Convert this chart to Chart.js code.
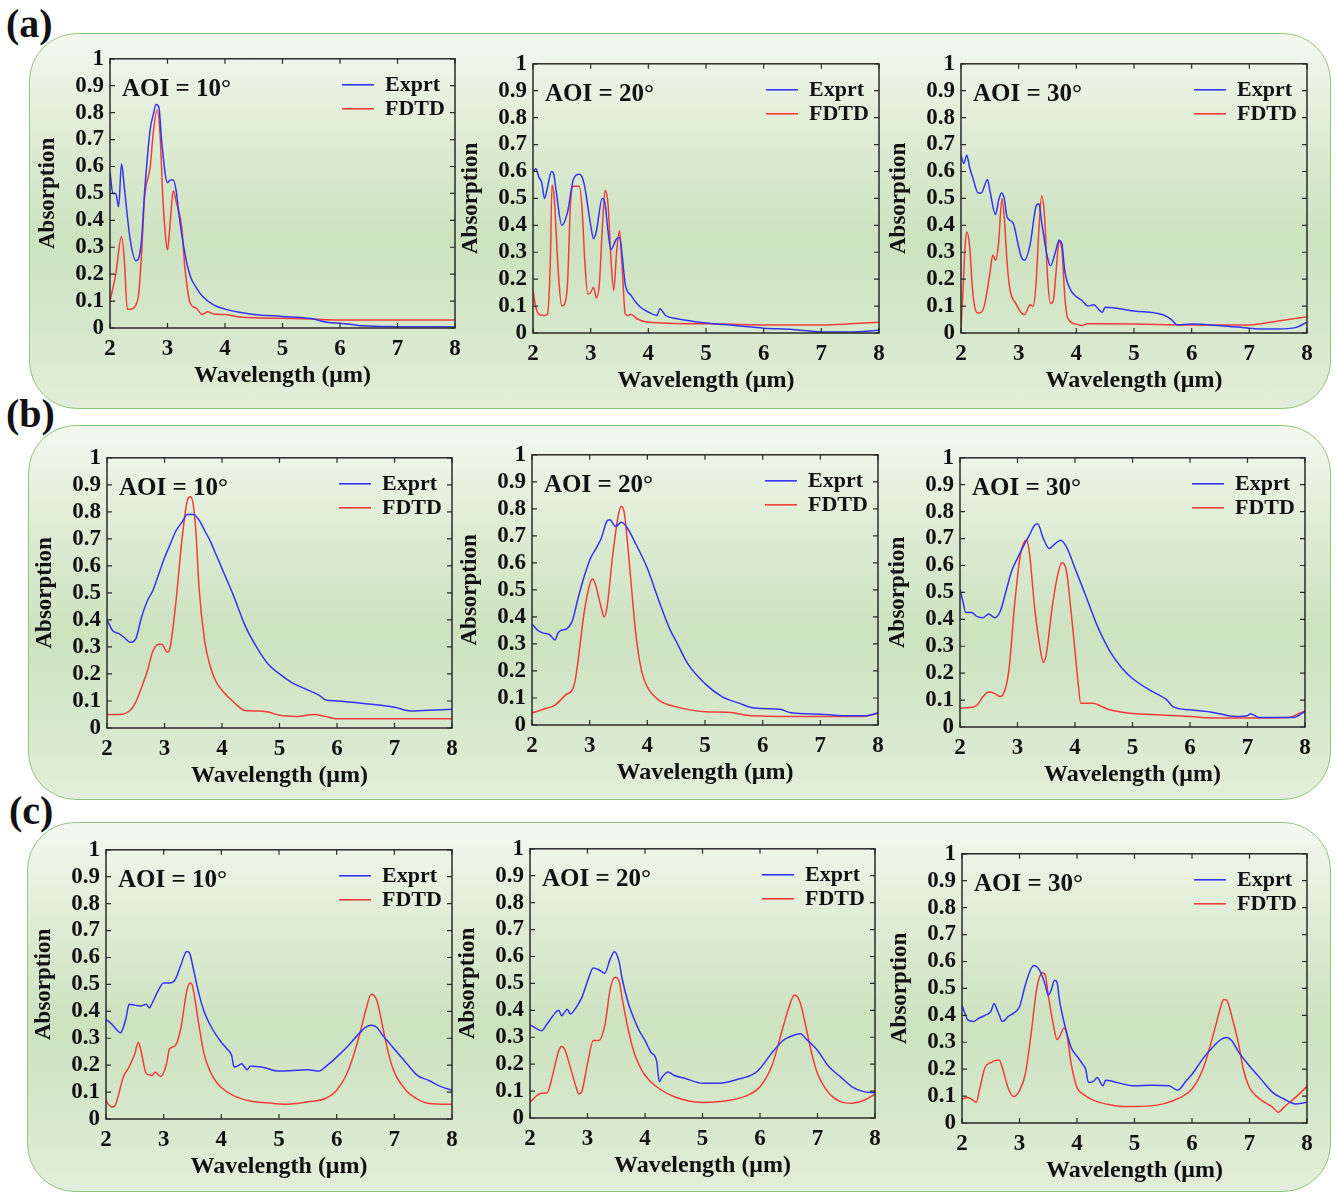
<!DOCTYPE html>
<html><head><meta charset="utf-8">
<script src="https://cdn.jsdelivr.net/npm/chart.js@4.4.0/dist/chart.umd.min.js"></script>
<style>
html,body{margin:0;padding:0;background:#fff;}
body{width:1336px;height:1193px;position:relative;overflow:hidden;font-family:'Liberation Serif',serif;}
.panel{position:absolute;border:1.6px solid #93c47d;border-radius:48px;box-sizing:border-box;
 background:linear-gradient(to bottom,#f3f8ef 0%,#dcebd2 30%,#cde2bf 55%,#d4e7c9 75%,#e2eedb 100%);}
.lab{position:absolute;font:bold 40px 'Liberation Serif',serif;color:#111;line-height:1;}
canvas{position:absolute;}
</style></head><body>
<div class="panel" style="left:29px;top:33px;width:1302px;height:376px;"></div>
<div class="panel" style="left:28px;top:425px;width:1303px;height:375px;"></div>
<div class="panel" style="left:27px;top:822px;width:1304px;height:370px;"></div>
<div class="lab" style="left:6px;top:4px;">(a)</div>
<div class="lab" style="left:6px;top:394px;">(b)</div>
<div class="lab" style="left:9px;top:791px;">(c)</div>
<script>
// ---------- data (wavelength µm, absorption) ----------
const xTicks = [2,3,4,5,6,7,8];
const yTicks = [0,0.1,0.2,0.3,0.4,0.5,0.6,0.7,0.8,0.9,1];
const aoiLabels = ['AOI = 10°','AOI = 20°','AOI = 30°'];

const a10Exprt = [[2,0.58],[2.05,0.50],[2.1,0.50],[2.15,0.45],[2.2,0.61],[2.25,0.52],[2.35,0.33],[2.45,0.25],[2.5,0.26],[2.55,0.33],[2.6,0.50],[2.7,0.74],[2.75,0.79],[2.8,0.83],[2.85,0.82],[2.9,0.69],[3.0,0.54],[3.05,0.55],[3.1,0.55],[3.15,0.51],[3.2,0.42],[3.3,0.28],[3.4,0.19],[3.5,0.15],[3.6,0.12],[3.8,0.086],[4.0,0.07],[4.2,0.06],[4.5,0.05],[5.0,0.043],[5.5,0.035],[5.8,0.02],[6.0,0.018],[6.4,0.008],[7.0,0.005],[8.0,0.004]];
const a10FDTD = [[2,0.10],[2.1,0.20],[2.2,0.34],[2.25,0.25],[2.3,0.07],[2.35,0.07],[2.45,0.085],[2.5,0.13],[2.55,0.28],[2.6,0.48],[2.7,0.60],[2.75,0.72],[2.82,0.81],[2.87,0.72],[2.92,0.48],[2.97,0.33],[3.0,0.29],[3.05,0.40],[3.1,0.51],[3.15,0.47],[3.25,0.37],[3.3,0.23],[3.4,0.09],[3.5,0.074],[3.6,0.05],[3.7,0.06],[3.8,0.052],[4.0,0.05],[4.3,0.04],[5.0,0.036],[5.5,0.033],[6.0,0.03],[8.0,0.03]];

const a20Exprt = [[2,0.60],[2.05,0.61],[2.1,0.58],[2.15,0.56],[2.2,0.50],[2.25,0.54],[2.32,0.60],[2.36,0.59],[2.4,0.53],[2.5,0.40],[2.6,0.45],[2.7,0.57],[2.8,0.59],[2.85,0.58],[2.9,0.54],[3.0,0.40],[3.05,0.35],[3.1,0.38],[3.2,0.50],[3.25,0.48],[3.3,0.38],[3.35,0.31],[3.45,0.35],[3.5,0.355],[3.55,0.28],[3.6,0.18],[3.7,0.14],[3.8,0.11],[3.9,0.09],[4.0,0.078],[4.15,0.065],[4.2,0.09],[4.3,0.065],[4.5,0.053],[5.0,0.037],[5.5,0.028],[6.0,0.018],[6.5,0.013],[7.0,0.004],[7.5,0.004],[8.0,0.01]];
const a20FDTD = [[2,0.157],[2.05,0.096],[2.1,0.07],[2.2,0.065],[2.25,0.07],[2.3,0.26],[2.33,0.55],[2.37,0.50],[2.4,0.38],[2.45,0.19],[2.5,0.10],[2.55,0.108],[2.6,0.19],[2.65,0.48],[2.7,0.545],[2.8,0.545],[2.85,0.465],[2.9,0.26],[2.95,0.145],[3.0,0.15],[3.05,0.17],[3.1,0.13],[3.15,0.18],[3.2,0.38],[3.25,0.53],[3.3,0.48],[3.35,0.28],[3.4,0.157],[3.45,0.30],[3.5,0.38],[3.55,0.23],[3.6,0.07],[3.65,0.065],[3.7,0.07],[3.8,0.053],[4.0,0.04],[5.0,0.034],[6.0,0.03],[7.0,0.03],[7.5,0.034],[8.0,0.04]];

const a30Exprt = [[2,0.66],[2.05,0.63],[2.1,0.66],[2.15,0.615],[2.2,0.58],[2.3,0.52],[2.35,0.52],[2.46,0.57],[2.5,0.53],[2.6,0.44],[2.65,0.49],[2.7,0.52],[2.75,0.50],[2.8,0.43],[2.9,0.41],[3.0,0.32],[3.05,0.28],[3.1,0.27],[3.2,0.33],[3.3,0.47],[3.35,0.48],[3.4,0.41],[3.5,0.28],[3.55,0.25],[3.65,0.31],[3.7,0.345],[3.75,0.33],[3.8,0.23],[3.9,0.16],[4.0,0.135],[4.1,0.12],[4.2,0.10],[4.3,0.105],[4.4,0.085],[4.45,0.076],[4.5,0.096],[5.0,0.082],[5.5,0.068],[5.65,0.05],[5.75,0.03],[6.0,0.033],[6.5,0.027],[7.0,0.018],[7.2,0.015],[7.5,0.015],[7.8,0.02],[8.0,0.04]];
const a30FDTD = [[2,0.02],[2.03,0.135],[2.07,0.32],[2.1,0.375],[2.15,0.32],[2.2,0.16],[2.25,0.086],[2.3,0.074],[2.4,0.098],[2.5,0.22],[2.55,0.29],[2.6,0.27],[2.65,0.33],[2.71,0.50],[2.75,0.43],[2.8,0.26],[2.85,0.16],[2.95,0.11],[3.05,0.074],[3.1,0.068],[3.2,0.105],[3.25,0.098],[3.3,0.18],[3.35,0.38],[3.4,0.51],[3.45,0.43],[3.5,0.21],[3.55,0.11],[3.6,0.12],[3.65,0.23],[3.7,0.34],[3.75,0.31],[3.8,0.135],[3.85,0.055],[4.0,0.033],[4.1,0.028],[4.2,0.034],[5.0,0.033],[6.0,0.03],[7.0,0.03],[7.5,0.045],[8.0,0.06]];

const b10Exprt = [[2,0.40],[2.1,0.36],[2.2,0.35],[2.3,0.335],[2.4,0.317],[2.5,0.33],[2.6,0.41],[2.7,0.47],[2.8,0.51],[2.9,0.57],[3.0,0.63],[3.1,0.68],[3.2,0.73],[3.3,0.76],[3.4,0.79],[3.5,0.79],[3.6,0.77],[3.7,0.73],[3.8,0.69],[3.9,0.64],[4.0,0.59],[4.2,0.49],[4.4,0.38],[4.6,0.30],[4.8,0.237],[5.0,0.20],[5.2,0.17],[5.5,0.14],[5.7,0.12],[5.8,0.104],[6.0,0.10],[6.5,0.09],[7.0,0.077],[7.3,0.063],[7.5,0.065],[8.0,0.069]];
const b10FDTD = [[2,0.05],[2.2,0.05],[2.4,0.065],[2.5,0.096],[2.6,0.15],[2.7,0.21],[2.8,0.286],[2.9,0.31],[2.95,0.31],[3.05,0.28],[3.1,0.30],[3.2,0.47],[3.3,0.69],[3.4,0.845],[3.45,0.856],[3.5,0.826],[3.55,0.715],[3.6,0.52],[3.7,0.32],[3.8,0.225],[3.9,0.17],[4.0,0.14],[4.2,0.096],[4.4,0.065],[4.6,0.063],[4.8,0.059],[5.0,0.047],[5.3,0.043],[5.6,0.05],[5.8,0.043],[6.0,0.034],[7.0,0.034],[8.0,0.034]];

const b20Exprt = [[2,0.374],[2.1,0.35],[2.2,0.34],[2.3,0.335],[2.4,0.315],[2.45,0.34],[2.5,0.35],[2.6,0.356],[2.7,0.386],[2.8,0.47],[2.9,0.546],[3.0,0.61],[3.1,0.65],[3.2,0.69],[3.3,0.755],[3.35,0.76],[3.45,0.735],[3.55,0.75],[3.65,0.73],[3.8,0.67],[4.0,0.58],[4.2,0.46],[4.4,0.35],[4.5,0.31],[4.7,0.227],[5.0,0.153],[5.3,0.104],[5.6,0.08],[5.8,0.065],[6.0,0.061],[6.3,0.058],[6.5,0.045],[7.0,0.04],[7.5,0.034],[7.8,0.034],[8.0,0.045]];
const b20FDTD = [[2,0.045],[2.2,0.058],[2.4,0.074],[2.6,0.114],[2.7,0.13],[2.75,0.166],[2.8,0.24],[2.9,0.41],[3.0,0.52],[3.05,0.54],[3.1,0.52],[3.2,0.435],[3.25,0.40],[3.3,0.435],[3.4,0.63],[3.5,0.78],[3.55,0.81],[3.6,0.785],[3.7,0.57],[3.8,0.337],[3.9,0.20],[4.0,0.141],[4.2,0.092],[4.5,0.067],[5.0,0.049],[5.4,0.047],[5.8,0.034],[6.5,0.031],[7.0,0.031],[7.7,0.031],[8.0,0.043]];

const b30Exprt = [[2,0.51],[2.05,0.467],[2.1,0.425],[2.2,0.425],[2.3,0.41],[2.4,0.406],[2.5,0.42],[2.6,0.406],[2.7,0.43],[2.8,0.504],[2.9,0.58],[3.0,0.627],[3.1,0.67],[3.2,0.71],[3.3,0.75],[3.35,0.755],[3.45,0.70],[3.55,0.663],[3.65,0.68],[3.75,0.694],[3.85,0.67],[4.0,0.59],[4.2,0.48],[4.4,0.37],[4.6,0.284],[4.8,0.223],[5.0,0.18],[5.3,0.137],[5.6,0.10],[5.7,0.076],[6.0,0.064],[6.4,0.054],[6.8,0.039],[7.0,0.042],[7.05,0.049],[7.2,0.035],[7.5,0.035],[7.8,0.035],[8.0,0.058]];
const b30FDTD = [[2,0.07],[2.2,0.073],[2.3,0.082],[2.4,0.113],[2.5,0.13],[2.6,0.125],[2.7,0.113],[2.75,0.12],[2.85,0.21],[2.95,0.455],[3.05,0.64],[3.1,0.68],[3.15,0.694],[3.2,0.66],[3.3,0.44],[3.4,0.284],[3.45,0.24],[3.5,0.27],[3.6,0.44],[3.7,0.566],[3.77,0.61],[3.85,0.58],[3.95,0.39],[4.05,0.174],[4.1,0.088],[4.3,0.088],[4.6,0.064],[5.0,0.05],[5.5,0.045],[6.0,0.039],[6.5,0.033],[7.0,0.033],[7.7,0.035],[8.0,0.06]];

const c10Exprt = [[2,0.37],[2.1,0.352],[2.2,0.328],[2.25,0.32],[2.3,0.34],[2.35,0.377],[2.4,0.426],[2.5,0.423],[2.6,0.42],[2.7,0.426],[2.75,0.413],[2.8,0.43],[2.9,0.475],[3.0,0.505],[3.1,0.505],[3.2,0.518],[3.3,0.573],[3.4,0.622],[3.45,0.616],[3.5,0.573],[3.6,0.475],[3.7,0.40],[3.8,0.352],[3.9,0.315],[4.0,0.285],[4.1,0.26],[4.18,0.235],[4.22,0.193],[4.3,0.199],[4.35,0.205],[4.45,0.183],[4.5,0.196],[4.7,0.193],[5.0,0.178],[5.5,0.183],[5.7,0.178],[5.8,0.193],[6.0,0.23],[6.2,0.272],[6.4,0.32],[6.5,0.34],[6.6,0.348],[6.7,0.34],[6.8,0.31],[6.9,0.285],[7.0,0.26],[7.2,0.21],[7.4,0.162],[7.6,0.143],[7.8,0.121],[8.0,0.107]];
const c10FDTD = [[2,0.07],[2.05,0.052],[2.1,0.045],[2.15,0.048],[2.2,0.076],[2.3,0.156],[2.4,0.193],[2.5,0.242],[2.56,0.285],[2.6,0.26],[2.7,0.168],[2.8,0.162],[2.85,0.174],[2.95,0.158],[3.05,0.205],[3.1,0.26],[3.2,0.272],[3.3,0.34],[3.4,0.475],[3.46,0.505],[3.5,0.494],[3.6,0.364],[3.7,0.242],[3.8,0.18],[3.9,0.141],[4.0,0.117],[4.2,0.088],[4.5,0.067],[4.8,0.06],[5.1,0.055],[5.5,0.064],[5.8,0.076],[6.0,0.107],[6.2,0.18],[6.4,0.315],[6.5,0.40],[6.6,0.463],[6.7,0.438],[6.8,0.34],[6.9,0.242],[7.0,0.174],[7.2,0.107],[7.4,0.074],[7.6,0.058],[8.0,0.055]];

const c20Exprt = [[2,0.346],[2.1,0.334],[2.2,0.324],[2.3,0.35],[2.4,0.38],[2.5,0.40],[2.55,0.38],[2.6,0.392],[2.65,0.404],[2.7,0.386],[2.8,0.41],[2.9,0.447],[3.0,0.508],[3.1,0.557],[3.2,0.55],[3.3,0.538],[3.4,0.594],[3.47,0.618],[3.55,0.58],[3.6,0.52],[3.7,0.434],[3.8,0.373],[3.9,0.324],[4.0,0.288],[4.1,0.245],[4.2,0.214],[4.25,0.135],[4.3,0.153],[4.4,0.171],[4.5,0.159],[4.7,0.147],[5.0,0.129],[5.3,0.129],[5.6,0.143],[5.9,0.165],[6.0,0.184],[6.2,0.24],[6.4,0.288],[6.5,0.30],[6.7,0.313],[6.8,0.294],[7.0,0.251],[7.2,0.19],[7.4,0.153],[7.6,0.116],[7.8,0.098],[8.0,0.094]];
const c20FDTD = [[2,0.058],[2.1,0.08],[2.2,0.092],[2.3,0.094],[2.4,0.165],[2.5,0.25],[2.55,0.266],[2.6,0.257],[2.7,0.19],[2.8,0.116],[2.85,0.089],[2.9,0.098],[3.0,0.202],[3.1,0.288],[3.2,0.288],[3.3,0.343],[3.4,0.484],[3.48,0.523],[3.55,0.508],[3.6,0.447],[3.7,0.337],[3.8,0.25],[3.9,0.196],[4.0,0.159],[4.2,0.116],[4.5,0.08],[5.0,0.058],[5.5,0.067],[5.8,0.086],[6.0,0.116],[6.2,0.19],[6.4,0.337],[6.5,0.41],[6.6,0.457],[6.7,0.428],[6.8,0.337],[6.9,0.239],[7.0,0.165],[7.2,0.092],[7.4,0.061],[7.6,0.055],[7.8,0.065],[8.0,0.089]];

const c30Exprt = [[2,0.438],[2.05,0.408],[2.1,0.383],[2.2,0.377],[2.3,0.39],[2.4,0.40],[2.5,0.414],[2.56,0.444],[2.6,0.426],[2.65,0.40],[2.7,0.377],[2.75,0.383],[2.8,0.395],[2.9,0.408],[3.0,0.432],[3.1,0.512],[3.2,0.573],[3.25,0.585],[3.35,0.567],[3.45,0.512],[3.5,0.475],[3.55,0.493],[3.61,0.53],[3.65,0.524],[3.7,0.45],[3.8,0.352],[3.9,0.279],[4.0,0.248],[4.1,0.218],[4.15,0.20],[4.2,0.15],[4.3,0.157],[4.35,0.169],[4.45,0.138],[4.5,0.159],[4.7,0.15],[5.0,0.138],[5.3,0.14],[5.6,0.138],[5.75,0.122],[5.9,0.157],[6.0,0.181],[6.2,0.242],[6.4,0.291],[6.5,0.31],[6.6,0.318],[6.7,0.304],[6.8,0.267],[7.0,0.212],[7.2,0.163],[7.4,0.114],[7.6,0.089],[7.8,0.071],[8.0,0.077]];
const c30FDTD = [[2,0.089],[2.1,0.095],[2.2,0.083],[2.25,0.077],[2.3,0.12],[2.4,0.206],[2.5,0.224],[2.6,0.233],[2.65,0.233],[2.7,0.206],[2.8,0.132],[2.9,0.098],[3.0,0.12],[3.1,0.181],[3.2,0.328],[3.3,0.50],[3.4,0.558],[3.45,0.548],[3.5,0.475],[3.6,0.352],[3.65,0.31],[3.7,0.322],[3.77,0.352],[3.82,0.334],[3.9,0.218],[4.0,0.132],[4.1,0.108],[4.3,0.083],[4.5,0.071],[4.8,0.061],[5.0,0.061],[5.5,0.071],[5.8,0.095],[6.0,0.126],[6.2,0.206],[6.4,0.352],[6.5,0.432],[6.55,0.459],[6.6,0.457],[6.7,0.389],[6.8,0.304],[6.9,0.194],[7.0,0.132],[7.2,0.086],[7.4,0.059],[7.5,0.04],[7.6,0.059],[7.8,0.095],[8.0,0.136]];

// ---------- drawing ----------
const BLUE = '#3434f4', RED = '#f23c3c';
const FONT = "'Liberation Serif', 'Times New Roman', serif";

const framePlugin = {
  id: 'frameAoi',
  afterDatasetsDraw(chart, args, opts) {
    const {ctx, chartArea: {left, top, right, bottom}, scales: {x, y}} = chart;
    ctx.save();
    ctx.strokeStyle = '#2a2a2a';
    ctx.lineWidth = 1.5;
    ctx.strokeRect(left, top, right - left, bottom - top);
    ctx.lineWidth = 1.2;
    ctx.beginPath();
    x.ticks.forEach(t => {
      const px = x.getPixelForValue(t.value);
      ctx.moveTo(px, top); ctx.lineTo(px, top + 5);
      ctx.moveTo(px, bottom); ctx.lineTo(px, bottom - 5);
    });
    y.ticks.forEach(t => {
      const py = y.getPixelForValue(t.value);
      ctx.moveTo(left, py); ctx.lineTo(left + 5, py);
      ctx.moveTo(right, py); ctx.lineTo(right - 5, py);
    });
    ctx.stroke();
    ctx.fillStyle = '#111';
    ctx.font = 'bold 25px ' + FONT;
    ctx.textBaseline = 'alphabetic';
    ctx.textAlign = 'left';
    ctx.fillText(opts.text, left + 12, top + 37);
    chart.data.datasets.forEach((ds, i) => {
      const yy = top + 26 + i * 24;
      ctx.strokeStyle = ds.borderColor;
      ctx.lineWidth = 1.6;
      ctx.beginPath(); ctx.moveTo(right - 113, yy); ctx.lineTo(right - 81, yy); ctx.stroke();
      ctx.font = 'bold 22px ' + FONT;
      ctx.textBaseline = 'middle';
      ctx.fillText(ds.label, right - 70, yy + 1);
    });
    ctx.restore();
  }
};

function makeChart(rect, aoi, exprt, fdtd) {
  const [L, T, R, B] = rect;
  const PADT = 18, PADR = 16, YW = 80, XH = 62;
  const cv = document.createElement('canvas');
  const w = R - L + YW + PADR, h = B - T + PADT + XH;
  cv.width = w; cv.height = h;
  cv.style.left = (L - YW) + 'px'; cv.style.top = (T - PADT) + 'px';
  cv.style.width = w + 'px'; cv.style.height = h + 'px';
  document.body.appendChild(cv);
  const tickFont = {family: FONT, size: 23, weight: 'bold'};
  const mk = (label, pts, color) => ({
    label, data: pts.map(([x, y]) => ({x, y})), borderColor: color, backgroundColor: color,
    borderWidth: 1.5, pointRadius: 0, cubicInterpolationMode: 'monotone', fill: false
  });
  new Chart(cv, {
    type: 'line',
    data: {datasets: [mk('Exprt', exprt, BLUE), mk('FDTD', fdtd, RED)]},
    options: {
      responsive: false, animation: false, devicePixelRatio: 1,
      layout: {padding: {top: PADT, right: PADR, left: 0, bottom: 0}},
      plugins: {legend: {display: false}, tooltip: {enabled: false}, frameAoi: {text: aoi}},
      scales: {
        x: {
          type: 'linear', min: 2, max: 8,
          afterBuildTicks: s => { s.ticks = xTicks.map(v => ({value: v})); },
          afterFit: s => { s.height = XH; },
          grid: {display: false, drawTicks: false}, border: {display: false},
          ticks: {padding: 7, font: tickFont, color: '#111', autoSkip: false, maxRotation: 0},
          title: {display: true, text: 'Wavelength (μm)', color: '#111',
                  font: {family: FONT, size: 24, weight: 'bold'}, padding: {top: 0, bottom: 0}}
        },
        y: {
          type: 'linear', min: 0, max: 1,
          afterBuildTicks: s => { s.ticks = yTicks.map(v => ({value: v})); },
          afterFit: s => { s.width = YW; },
          grid: {display: false, drawTicks: false}, border: {display: false},
          ticks: {padding: 6, font: tickFont, color: '#111', autoSkip: false,
                  callback: v => String(Math.round(v * 10) / 10)},
          title: {display: true, text: 'Absorption', color: '#111',
                  font: {family: FONT, size: 23, weight: 'bold'}, padding: {top: 4, bottom: 0}}
        }
      }
    },
    plugins: [framePlugin]
  });
}

makeChart([110, 57, 455, 328], aoiLabels[0], a10Exprt, a10FDTD);
makeChart([533, 62, 879, 333], aoiLabels[1], a20Exprt, a20FDTD);
makeChart([961, 62, 1307, 333], aoiLabels[2], a30Exprt, a30FDTD);
makeChart([107, 456, 452, 728], aoiLabels[0], b10Exprt, b10FDTD);
makeChart([532, 453, 878, 725], aoiLabels[1], b20Exprt, b20FDTD);
makeChart([960, 456, 1305, 727], aoiLabels[2], b30Exprt, b30FDTD);
makeChart([106, 848, 452, 1119], aoiLabels[0], c10Exprt, c10FDTD);
makeChart([530, 847, 875, 1118], aoiLabels[1], c20Exprt, c20FDTD);
makeChart([962, 852, 1307, 1123], aoiLabels[2], c30Exprt, c30FDTD);
</script>
</body></html>
